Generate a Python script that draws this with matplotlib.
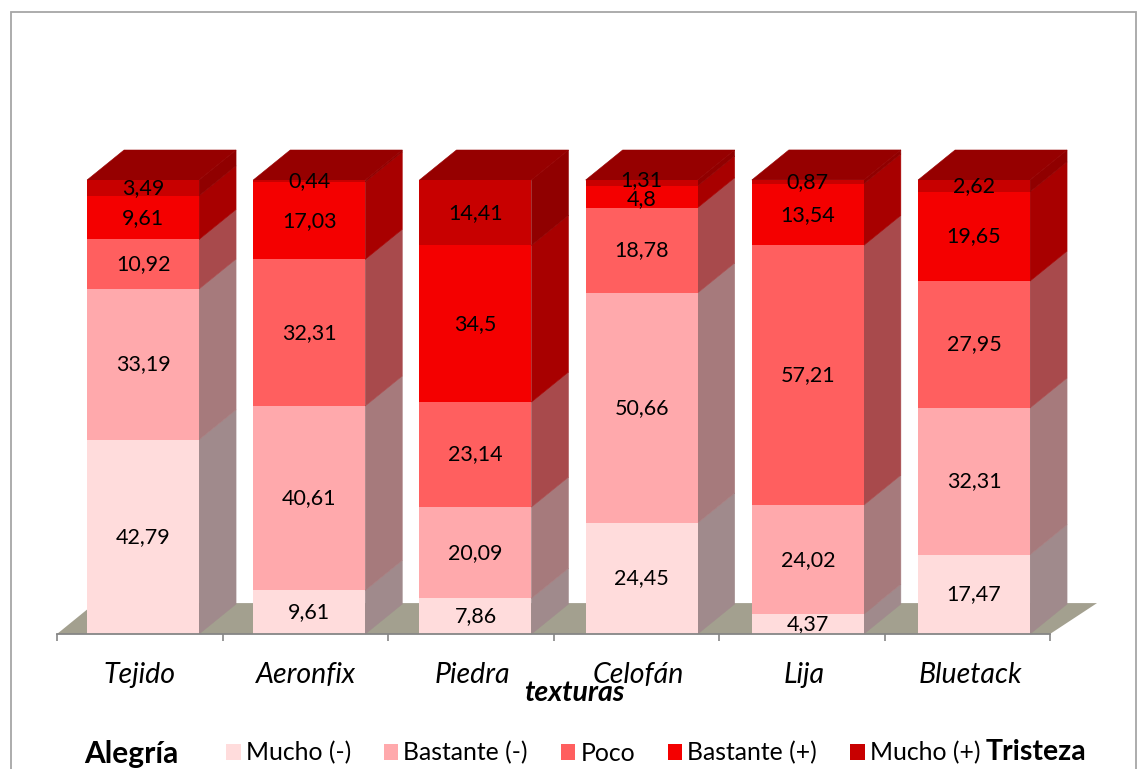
import matplotlib
matplotlib.use("Agg")
from matplotlib import pyplot as plt
from matplotlib.patches import Polygon, Rectangle

plt.rcParams['font.family'] = ['Lato', 'DejaVu Sans']

texturas = ["Tejido", "Aeronfix", "Piedra", "Celofán", "Lija", "Bluetack"]
niveles = ["Mucho (-)", "Bastante (-)", "Poco", "Bastante (+)", "Mucho (+)"]

mucho_menos = [42.79, 9.61, 7.86, 24.45, 4.37, 17.47]
bastante_menos = [33.19, 40.61, 20.09, 50.66, 24.02, 32.31]
poco = [10.92, 32.31, 23.14, 18.78, 57.21, 27.95]
bastante_mas = [9.61, 17.03, 34.5, 4.8, 13.54, 19.65]
mucho_mas = [3.49, 0.44, 14.41, 1.31, 0.87, 2.62]
series = [mucho_menos, bastante_menos, poco, bastante_mas, mucho_mas]

colores = ["#FFDCDC", "#FFA9AC", "#FF5F5F", "#F40000", "#C80000"]
laterales = ["#A08A8C", "#A67A7C", "#A84A4C", "#A80000", "#900000"]
color_techo = "#960000"
color_suelo = "#A3A08F"

W, H = 1141, 769
fig = plt.figure(figsize=(W / 100, H / 100), dpi=100)
ax = fig.add_axes([57 / W, 1 - 634 / H, (1050 - 57) / W, (634 - 180) / H])
ax.set_xlim(-0.5, 5.5)
ax.set_ylim(0, 100)

# fake 3d depth, in data units
px = 993 / 6
dx = 37 / px
dy = 30 / 4.54
ancho = 112 / px
despl = 3.3 / px
paso = 166.2 / px

fig.add_artist(Rectangle((11 / W, -0.01), 1125 / W, 1 - 12 / H + 0.01, fill=False,
                         ec="#A6A6A6", lw=1.3, transform=fig.transFigure))

ax.add_patch(Polygon([(-0.5, 0), (5.5, 0), (5.5 + 47 / px, dy + 0.2), (-0.5 + 38 / px, dy + 0.2)],
                     fc=color_suelo, ec="none", clip_on=False, zorder=1))

for i in range(len(texturas)):
    base = 0
    c = i * paso + despl
    r = c + ancho / 2
    l = c - ancho / 2
    for j, s in enumerate(series):
        v = s[i]
        ax.bar(c, v, ancho, bottom=base, color=colores[j], zorder=3, clip_on=False)
        ax.add_patch(Polygon([(r, base), (r + dx, base + dy), (r + dx, base + v + dy), (r, base + v)],
                             fc=laterales[j], ec=laterales[j], lw=0.4, clip_on=False, zorder=2))
        # the two thin Celofan labels are pushed apart in the original
        ajuste = {1.31: 0.7, 4.8: -0.4}.get(v, 0)
        ax.text(c, base + v / 2 + ajuste, str(v).replace(".", ","), ha="center", va="center",
                fontsize=15.5, color="black", zorder=5, clip_on=False)
        base += v
    ax.add_patch(Polygon([(l, base), (r, base), (r + dx, base + dy), (l + dx, base + dy)],
                         fc=color_techo, ec=color_techo, lw=0.4, clip_on=False, zorder=2.5))

for lado in ["top", "left", "right"]:
    ax.spines[lado].set_visible(False)
ax.spines["bottom"].set_color("#868686")
ax.spines["bottom"].set_linewidth(1.3)
ax.spines["bottom"].set_zorder(6)
ax.set_yticks([])
ax.set_xticks([x - 0.5 for x in range(7)])
ax.set_xticklabels([])
ax.tick_params(axis="x", which="major", length=5, width=1.2, color="#868686")
ax.set_xticks([x * paso for x in range(6)], minor=True)
ax.set_xticklabels(texturas, minor=True, style="italic", fontsize=20.5)
ax.tick_params(axis="x", which="minor", length=0, pad=20)

fig.text(574 / W, 1 - 693 / H, "texturas", ha="center", va="center", fontsize=20.5,
         fontweight="bold", style="italic")

handles = [Rectangle((0, 0), 1, 1, fc=c, ec="none") for c in colores]
fig.legend(handles, niveles, ncol=5, loc="center left", bbox_to_anchor=(226 / W, 1 - 753 / H),
           frameon=False, fontsize=17.8, handlelength=0.6, handleheight=0.6, handletextpad=0.2,
           columnspacing=1.32, borderpad=0, borderaxespad=0)

fig.text(131.5 / W, 1 - 754 / H, "Alegría", ha="center", va="center", fontsize=21.5, fontweight="bold")
fig.text(1036 / W, 1 - 752 / H, "Tristeza", ha="center", va="center", fontsize=20.5, fontweight="bold")

fig.savefig("out.png", dpi=100)
